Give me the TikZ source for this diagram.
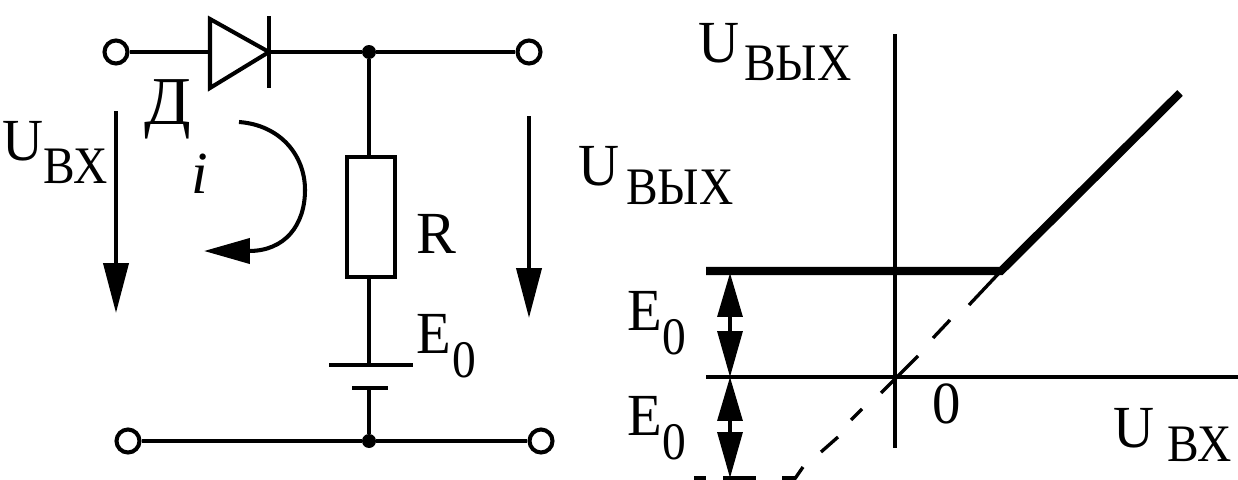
\documentclass[tikz,border=0pt]{standalone}
\usepackage{graphicx}
\usepackage{fontspec}
\setmainfont{Liberation Serif}
\usetikzlibrary{arrows.meta}

\newdimen\pxu
\pxu=0.02cm
% main letter with a lowered index: text, gap, drop, index
\newcommand{\withsub}[4]{\scalebox{0.95}[1]{#1}\hspace{#2\pxu}\raisebox{-#3\pxu}{\scalebox{0.9}[1]{\fontsize{30pt}{30pt}\selectfont #4}}}

\tikzset{
  wire/.style={line width=2.3pt},
  thickwire/.style={line width=4.6pt},
  thinwire/.style={line width=1.9pt},
  terminal/.style={draw, circle, line width=2.3pt, fill=white, inner sep=0pt, minimum size=0.46cm},
  junction/.style={fill, circle, inner sep=0pt, minimum size=0.28cm},
  resistor/.style={draw, line width=2.3pt, inner sep=0pt, minimum width=0.96cm, minimum height=2.4cm},
  lbl/.style={anchor=base west, inner sep=0pt, font=\fontsize{34pt}{34pt}\selectfont},
  bigarrow/.style={wire, -{Triangle[length=1.0cm, width=0.5cm]}},
  shortarrow/.style={thinwire, {Triangle[length=0.88cm, width=0.5cm]}-{Triangle[length=0.92cm, width=0.5cm]}}
}

\begin{document}
\begin{tikzpicture}[x=0.02cm, y=-0.02cm]
\useasboundingbox (0,0) rectangle (1238,480);

% Terminals and junctions
\node[terminal] (tl) at (116,52) {};
\node[terminal] (tr) at (529,52) {};
\node[terminal] (bl) at (128,441) {};
\node[terminal] (br) at (541,441) {};
\node[junction] (jtop) at (369,52) {};
\node[junction] (jbot) at (369,441) {};

% Diode
\coordinate (anode) at (210,52);
\coordinate (cathode) at (269,52);
\draw[wire, line join=miter] (anode |- 0,19) -- (cathode) -- (anode |- 0,88) -- cycle;
\draw[wire] (269,16) -- (269,88);

% Top and bottom rails
\draw[wire] (tl) -- (anode);
\draw[wire] (cathode) -- (jtop) -- (tr);
\draw[wire] (bl) -- (jbot) -- (br);

% Resistor and battery
\node[resistor] (res) at (371,217) {};
\coordinate (platea) at (369,365);
\coordinate (plateb) at (369,388);
\draw[wire] (jtop) -- (jtop |- res.north);
\draw[wire] (jtop |- res.south) -- (platea);
\draw[wire] (plateb) -- (jbot);
\draw[wire] (329,365) -- (413,365);
\draw[wire] (352,388) -- (388,388);

% Voltage arrows
\coordinate (uinstart) at (116,111);
\coordinate (uinend) at (116,313);
\coordinate (uoutstart) at (529,116);
\coordinate (uoutend) at (529,318);
\draw[bigarrow] (uinstart) -- (uinend);
\draw[bigarrow] (uoutstart) -- (uoutend);

% Current arrow
\coordinate (istart) at (239,122);
\coordinate (iend) at (204,251);
\draw[wire, -{Triangle[length=0.92cm, width=0.5cm]}] (istart) .. controls (280,125) and (305,155) .. (305,190) .. controls (305,225) and (285,251) .. (iend);

% Circuit labels
\node[lbl] (uin) at (2,160) {\withsub{U}{0}{23}{ВХ}};
\node[lbl, font=\fontsize{39pt}{39pt}\selectfont] (diodelbl) at (144,124) {Д};
\node[lbl] (ilbl) at (191,193) {\textit{i}};
\node[lbl] (rlbl) at (416,253) {R};
\node[lbl] (ebat) at (416,353) {\withsub{E}{1}{24}{0}};
\node[lbl] (uout) at (578,185) {\withsub{U}{7}{19}{ВЫХ}};

% Axes
\coordinate (xa) at (706,377);
\coordinate (xb) at (1238,377);
\coordinate (ya) at (895,34);
\coordinate (yb) at (895,448);
\draw[wire] (xa) -- (xb);
\draw[wire] (ya) -- (yb);

% Characteristic
\coordinate (kneeleft) at (706,271);
\coordinate (knee) at (1001,271);
\coordinate (kneetop) at (1180,93);
\draw[thickwire, line join=miter] (kneeleft) -- (knee) -- (kneetop);

% Dashed continuation
\foreach \xs/\ys/\xe/\ye in {1001/271/969/305, 950/320/933/338, 918/356/881/393, 862/409/851/420, 838/437/821/452, 803/467/794/480}
  \draw[thinwire] (\xs,\ys) -- (\xe,\ye);
\foreach \xs/\xe in {694/706, 723/756, 782/795}
  \draw[wire] (\xs,478) -- (\xe,478);

% Double arrows
\coordinate (etop) at (730,273);
\coordinate (emid) at (730,377);
\coordinate (ebot) at (730,478);
\draw[shortarrow] (etop) -- (emid);
\draw[shortarrow] (emid) -- (ebot);

% Graph labels
\node[lbl] (uouttop) at (698,62) {\withsub{U}{5}{18}{ВЫХ}};
\node[lbl] (eup) at (627,330) {\withsub{E}{0}{24}{0}};
\node[lbl] (edown) at (627,435) {\withsub{E}{0}{24}{0}};
\node[lbl] (zero) at (932,423) {\scalebox{0.95}[1]{0}};
\node[lbl] (uinx) at (1113,447) {\withsub{U}{13}{14}{ВХ}};

\end{tikzpicture}
\end{document}
